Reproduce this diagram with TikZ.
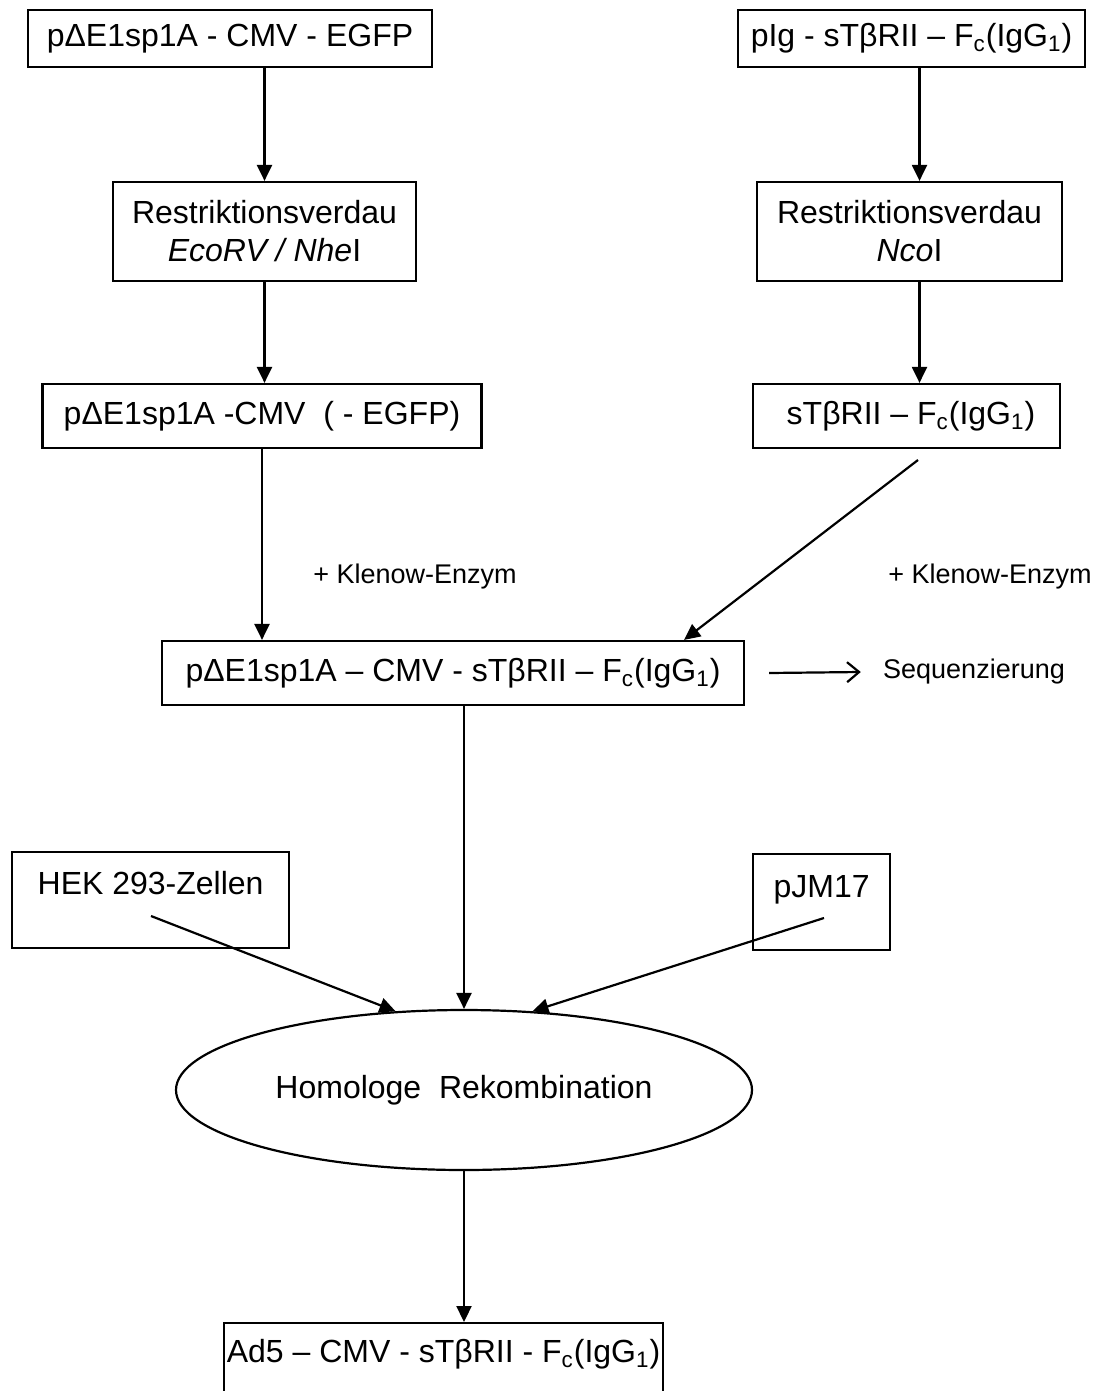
\documentclass[tikz,border=0pt]{standalone}
\usepackage{fontspec}
\setmainfont{Liberation Sans}
\usetikzlibrary{arrows.meta,shapes.geometric}

\begin{document}
\begin{tikzpicture}[x=0.5pt, y=-0.5pt,
    box/.style={draw, line width=1.1pt, inner sep=0pt, align=center,
        font=\fontsize{16}{19}\selectfont},
    arr/.style={line width=1.1pt, -{Triangle[length=8pt,width=7.5pt]}},
    seqarr/.style={line width=1.1pt, -{Straight Barb[length=6pt,width=10pt]}},
    note/.style={inner sep=0pt, font=\fontsize{13.5}{16}\selectfont}]

        \useasboundingbox (0,0) rectangle (1096,1391);

        % 1. Ausgangsplasmide
        \node[box, minimum width=202pt, minimum height=28.5pt] (src1) at (230,38.5) {pΔE1sp1A - CMV - EGFP};
        \node[box, minimum width=173.5pt, minimum height=28.5pt] (src2) at (911.5,38.5) {pIg - sTβRII – F\textsubscript{c}(IgG\textsubscript{1})};

        % 2. Restriktionsverdau
        \node[box, minimum width=151.5pt, minimum height=49.5pt] (cut1) at (264.5,231.5) {Restriktionsverdau\\ \textit{EcoRV / Nhe}I};
        \node[box, minimum width=152.5pt, minimum height=49.5pt] (cut2) at (909.5,231.5) {Restriktionsverdau\\ \textit{Nco}I};

        % 3. Fragmente
        \node[box, minimum width=219.5pt, minimum height=32pt] (frag1) at (262,416) {pΔE1sp1A -CMV~ ( - EGFP)};
        \node[box, minimum width=153.5pt, minimum height=32pt] (frag2) at (906.5,416) {~sTβRII – F\textsubscript{c}(IgG\textsubscript{1})};

        % 4. Ligation + Sequenzierung
        \node[box, minimum width=291pt, minimum height=32pt] (lig) at (453,673) {pΔE1sp1A – CMV - sTβRII – F\textsubscript{c}(IgG\textsubscript{1})};
        \node[note] (seq) at (974,672) {Sequenzierung};
        \node[note] (klenow1) at (415,577) {+ Klenow-Enzym};
        \node[note] (klenow2) at (990,577) {+ Klenow-Enzym};

        % 5. Zellen, pJM17, Rekombination
        \node[box, anchor=north west, minimum width=138.5pt, text height=21.25pt, text depth=26.75pt] (hek) at (11,851) {HEK 293-Zellen};
        \node[box, anchor=north west, minimum width=68.5pt, text height=21.75pt, text depth=26.25pt] (pjm) at (752,853) {pJM17};
        \node[box, ellipse, minimum width=288pt, minimum height=80pt] (rek) at (464,1090) {Homologe~ Rekombination};
        \node[box, anchor=north, minimum width=219.5pt, text height=19.75pt, text depth=30pt] (ad5) at (443.5,1322) {Ad5 – CMV - sTβRII - F\textsubscript{c}(IgG\textsubscript{1})};

        \coordinate (frag2out) at (918,460);
        \coordinate (hekout)   at (151,916);
        \coordinate (pjmout)   at (824,918);

        % 6. Pfeile
        \draw[arr] (cut1.north |- src1.south) -- (cut1.north);
        \draw[arr] ([xshift=5pt]cut2.north |- src2.south) -- ([xshift=5pt]cut2.north);
        \draw[arr] (cut1.south) -- (cut1.south |- frag1.north);
        \draw[arr] ([xshift=5pt]cut2.south) -- ([xshift=5pt]cut2.south |- frag2.north);
        \draw[arr] (frag1.south) -- (frag1.south |- lig.north);
        \draw[arr] (frag2out) -- ([xshift=-30.5pt]lig.north east);
        \draw[seqarr] ([xshift=12pt]lig.east) -- ([xshift=-11pt]seq.west);
        \draw[arr] (rek.north |- lig.south) -- (rek.north);
        \draw[arr] (hekout) -- (rek.131);
        \draw[arr] (pjmout) -- (rek.49);
        \draw[arr] (rek.south) -- (rek.south |- ad5.north);

    \end{tikzpicture}
\end{document}
